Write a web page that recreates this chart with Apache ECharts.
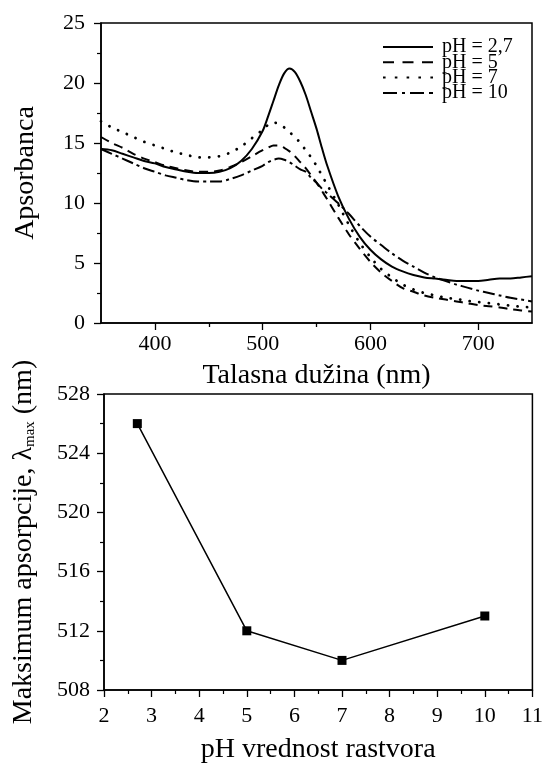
<!DOCTYPE html>
<html>
<head>
<meta charset="UTF-8">
<title>Apsorbanca / pH</title>
<script src="https://cdn.jsdelivr.net/npm/echarts@6/dist/echarts.min.js"></script>
<style>
  html, body { margin: 0; padding: 0; background: #fff; }
  #main { width: 546px; height: 765px; }
</style>
</head>
<body>
<div id="main"></div>
<script type="text/javascript">
// talasna duzina (nm)
var wavelength = [350,360,370,380,390,400,410,420,430,440,450,460,470,480,490,500,505,510,515,520,525,530,535,540,545,550,555,560,570,580,590,600,610,620,630,640,650,660,670,680,690,700,710,720,730,740,750];
// apsorbanca za svaki pH
var absPh27 = [14.5,14.4,14.1,13.8,13.5,13.3,13.0,12.8,12.6,12.5,12.5,12.6,12.9,13.5,14.5,16.0,17.2,18.5,19.8,20.8,21.2,20.9,20.1,19.0,17.6,16.2,14.6,13.1,10.6,8.7,7.2,6.1,5.3,4.7,4.3,4.0,3.8,3.7,3.6,3.5,3.5,3.5,3.6,3.7,3.7,3.8,3.9];
var absPh5 = [15.5,15.0,14.6,14.1,13.7,13.4,13.1,12.9,12.7,12.6,12.6,12.7,13.0,13.4,13.9,14.4,14.6,14.8,14.8,14.6,14.3,13.9,13.4,12.9,12.3,11.7,11.0,10.3,8.8,7.4,6.2,5.1,4.2,3.5,2.9,2.6,2.3,2.1,1.95,1.8,1.65,1.5,1.4,1.3,1.15,1.05,0.95];
var absPh7 = [16.8,16.3,15.9,15.5,15.1,14.8,14.5,14.2,14.0,13.8,13.8,13.9,14.2,14.7,15.4,16.1,16.5,16.7,16.6,16.3,15.9,15.5,15.0,14.4,13.8,13.1,12.3,11.5,9.9,8.2,6.7,5.5,4.5,3.8,3.2,2.8,2.5,2.3,2.1,2.0,1.85,1.75,1.65,1.55,1.45,1.35,1.3];
var absPh10 = [14.5,14.1,13.7,13.3,12.9,12.6,12.3,12.1,11.9,11.8,11.8,11.8,12.0,12.3,12.7,13.1,13.4,13.6,13.7,13.6,13.4,13.1,12.8,12.6,12.1,11.7,11.2,10.8,10.0,9.1,8.1,7.2,6.5,5.8,5.2,4.7,4.2,3.8,3.5,3.2,2.95,2.7,2.5,2.3,2.1,1.95,1.8];
var wlTicks = [400,500,600,700];
var wlMinorTicks = [450,550,650];

// maksimum apsorpcije u zavisnosti od pH
var phValues = [2.7,5,7,10];
var lambdaMax = [526,512,510,513];

var FONT = '"Liberation Serif", "DejaVu Serif", serif';

// ikone za legendu (linija, crtice, tacke, crta-tacka)
var ICON_SOLID = 'path://M0,0H50V2H0Z';
var ICON_DASH = 'path://M0,0H11V2H0Z M19.5,0H30.5V2H19.5Z M39,0H50V2H39Z';
var ICON_DOT = 'path://M0,0H2.6V2H0Z M11.8,0H14.4V2H11.8Z M23.6,0H26.2V2H23.6Z M35.4,0H38V2H35.4Z M47.4,0H50V2H47.4Z';
var ICON_DASHDOT = 'path://M0,0H14V2H0Z M19,0H22V2H19Z M27,0H41V2H27Z M46,0H50V2H46Z';

function zip(xs, ys) {
  var out = [];
  for (var i = 0; i < xs.length; i++) out.push([xs[i], ys[i]]);
  return out;
}

var myChart = echarts.init(document.getElementById('main'), null, { renderer: 'canvas' });

var axisCommon = {
  axisLine: { lineStyle: { color: '#000', width: 1.5 } },
  axisTick: { inside: false, length: 7, lineStyle: { color: '#000', width: 1.3 } },
  minorTick: { show: true, splitNumber: 2, length: 4, lineStyle: { color: '#000', width: 1.2 } },
  splitLine: { show: false },
  minorSplitLine: { show: false },
  axisLabel: { color: '#000', fontFamily: FONT, fontSize: 22 },
  nameTextStyle: { color: '#000', fontFamily: FONT, fontSize: 28 }
};

function ax(extra) {
  return echarts.util.merge(echarts.util.clone(axisCommon), extra, true);
}

var option = {
  backgroundColor: '#fff',
  animation: false,
  color: ['#000'],
  grid: [
    { left: 101, top: 23, width: 431, height: 300, show: true, borderColor: '#000', borderWidth: 1.5, backgroundColor: 'transparent' },
    { left: 104, top: 394, width: 429, height: 303, show: true, borderColor: '#000', borderWidth: 1.5, backgroundColor: 'transparent' }
  ],
  legend: {
    data: [
      { name: 'pH = 2,7', icon: ICON_SOLID },
      { name: 'pH = 5', icon: ICON_DASH },
      { name: 'pH = 7', icon: ICON_DOT },
      { name: 'pH = 10', icon: ICON_DASHDOT }
    ],
    orient: 'vertical',
    left: 383,
    top: 37,
    padding: 0,
    itemWidth: 50,
    itemHeight: 2.4,
    itemGap: -4.7,
    textStyle: { fontFamily: FONT, fontSize: 20, color: '#000', padding: [0, 0, 0, 4] }
  },
  xAxis: [
    ax({
      gridIndex: 0, type: 'value', min: 350, max: 750, position: 'bottom',
      name: 'Talasna dužina (nm)', nameLocation: 'middle', nameGap: 39,
      axisTick: { customValues: wlTicks },
      axisLabel: { customValues: wlTicks, margin: 10 },
      minorTick: { show: false }
    }),
    ax({
      gridIndex: 0, type: 'value', min: 350, max: 750, position: 'bottom',
      axisLine: { show: false },
      axisTick: { customValues: wlMinorTicks, length: 4 },
      axisLabel: { show: false },
      minorTick: { show: false }
    }),
    ax({
      gridIndex: 1, type: 'value', min: 2, max: 11, interval: 1, position: 'bottom',
      name: 'pH vrednost rastvora', nameLocation: 'middle', nameGap: 46,
      axisLabel: { margin: 15 }
    })
  ],
  yAxis: [
    ax({
      gridIndex: 0, type: 'value', min: 0, max: 25, interval: 5,
      name: 'Apsorbanca', nameLocation: 'middle', nameGap: 61, nameRotate: 90,
      axisLabel: { margin: 16 }
    }),
    ax({
      gridIndex: 1, type: 'value', min: 508, max: 528, interval: 4,
      name: '{a|Maksimum apsorpcije, λ}{s|max}{a| (nm)}', nameLocation: 'middle', nameGap: 66, nameRotate: 90,
      nameTextStyle: {
        rich: {
          a: { fontFamily: FONT, fontSize: 28, color: '#000', lineHeight: 28 },
          s: { fontFamily: FONT, fontSize: 15, color: '#000', lineHeight: 10, verticalAlign: 'bottom' }
        }
      },
      axisLabel: { margin: 14 }
    })
  ],
  series: [
    {
      name: 'pH = 2,7', type: 'line', xAxisIndex: 0, yAxisIndex: 0, smooth: 0.3, symbol: 'none',
      lineStyle: { color: '#000', width: 2, type: 'solid' },
      data: zip(wavelength, absPh27)
    },
    {
      name: 'pH = 5', type: 'line', xAxisIndex: 0, yAxisIndex: 0, smooth: 0.3, symbol: 'none',
      lineStyle: { color: '#000', width: 2, type: [9, 6] },
      data: zip(wavelength, absPh5)
    },
    {
      name: 'pH = 7', type: 'line', xAxisIndex: 0, yAxisIndex: 0, smooth: 0.3, symbol: 'none',
      lineStyle: { color: '#000', width: 2.8, type: [0.1, 9.5], cap: 'round' },
      data: zip(wavelength, absPh7)
    },
    {
      name: 'pH = 10', type: 'line', xAxisIndex: 0, yAxisIndex: 0, smooth: 0.3, symbol: 'none',
      lineStyle: { color: '#000', width: 2, type: [12, 4, 3, 4] },
      data: zip(wavelength, absPh10)
    },
    {
      name: 'lambdaMax', type: 'line', xAxisIndex: 2, yAxisIndex: 1,
      symbol: 'rect', symbolSize: 9, itemStyle: { color: '#000' },
      lineStyle: { color: '#000', width: 1.5 },
      data: zip(phValues, lambdaMax)
    }
  ]
};

myChart.setOption(option);
</script>
</body>
</html>
